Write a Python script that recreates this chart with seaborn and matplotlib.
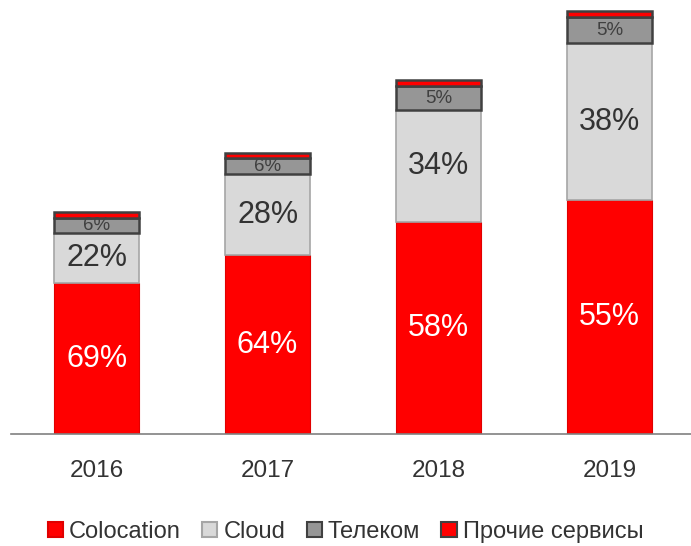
import numpy as np
import pandas as pd
import matplotlib
matplotlib.use("Agg")
import matplotlib.pyplot as plt
import seaborn as sns
from matplotlib.patches import Patch


years = ["2016", "2017", "2018", "2019"]

# segment heights (relative units)
colocation = [15.1, 17.9, 21.2, 23.4]
cloud = [5.0, 8.1, 11.2, 15.7]
telecom = [1.5, 1.6, 2.4, 2.6]
other = [0.6, 0.5, 0.6, 0.6]

colocation_lbl = ["69%", "64%", "58%", "55%"]
cloud_lbl = ["22%", "28%", "34%", "38%"]
telecom_lbl = ["6%", "6%", "5%", "5%"]
other_lbl = ["3%", "2%", "3%", "3%"]

series_names = ["Colocation", "Cloud", "Телеком", "Прочие сервисы"]


sns.set_style("white")
plt.rcParams['font.family'] = ['Liberation Sans', 'DejaVu Sans']

df = pd.DataFrame({
    "year": years,
    "Colocation": colocation,
    "Cloud": cloud,
    "Телеком": telecom,
    "Прочие сервисы": other,
})

styles = {
    "Colocation": dict(color="#FF0000", edgecolor="#E00000", linewidth=0.8),
    "Cloud": dict(color="#D9D9D9", edgecolor="#A6A6A6", linewidth=1.2),
    "Телеком": dict(color="#969696", edgecolor="#404040", linewidth=1.8),
    "Прочие сервисы": dict(color="#FF0000", edgecolor="#404040", linewidth=1.8),
}

labels = {
    "Colocation": (colocation_lbl, "white", 22),
    "Cloud": (cloud_lbl, "#333333", 22),
    "Телеком": (telecom_lbl, "#404040", 13.5),
    "Прочие сервисы": (other_lbl, "white", 13.5),
}

fig = plt.figure(figsize=(6.91, 5.46), dpi=100)
ax = fig.add_axes([0.016, 0.205, 0.99, 0.795])

bottom = np.zeros(len(years))
for name in series_names:
    sns.barplot(data=df, x="year", y=name, bottom=bottom, width=0.5,
                saturation=1, ax=ax, **styles[name])
    texts, tcolor, size = labels[name]
    vals = df[name].values
    for i, t in enumerate(texts):
        if name == "Прочие сервисы":
            ax.text(i, bottom[i] + vals[i] + 0.2, t, ha="center", va="bottom",
                    color=tcolor, fontsize=size, clip_on=False)
        else:
            ax.text(i, bottom[i] + vals[i] / 2, t, ha="center", va="center",
                    color=tcolor, fontsize=size, clip_on=False)
    bottom = bottom + vals

ax.set_xlim(-0.5, 3.5)
ax.set_ylim(0, 43.4)
ax.set_xlabel("")
ax.set_ylabel("")
ax.set_yticks([])

for s in ["top", "right", "left"]:
    ax.spines[s].set_visible(False)
ax.spines["bottom"].set_color("#808080")
ax.spines["bottom"].set_linewidth(1.2)

ax.set_xticks(range(len(years)))
ax.set_xticklabels(years, fontsize=17.5, color="#333333")
ax.tick_params(axis="x", which="major", length=0, pad=19)
ax.set_xticks(np.arange(-0.5, 4.0, 1.0), minor=True)
ax.tick_params(axis="x", which="minor", length=6, width=1.2, color="#808080",
               direction="out")

handles = [Patch(facecolor=styles[n]["color"], edgecolor=styles[n]["edgecolor"],
                 linewidth=1.5, label=n) for n in series_names]
fig.legend(handles=handles, loc="center", bbox_to_anchor=(0.5, 0.026),
           ncol=4, frameon=False, fontsize=17, handlelength=0.65, handleheight=0.65,
           handletextpad=0.25, columnspacing=0.9, labelcolor="#333333")

fig.savefig("out.png", dpi=100)
